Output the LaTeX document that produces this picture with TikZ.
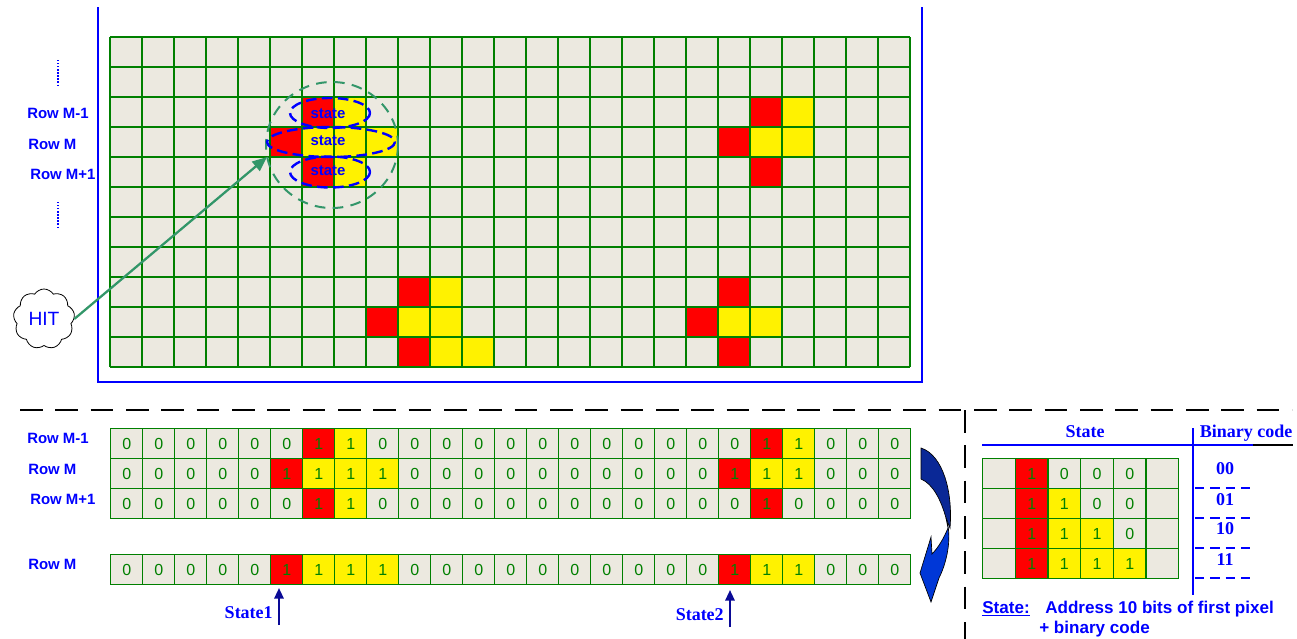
\documentclass[tikz,border=0pt]{standalone}
\usepackage{fontspec}
\setmainfont{Liberation Serif}
\setsansfont{Liberation Sans}
\usetikzlibrary{shapes.symbols,arrows.meta}
\definecolor{cellbg}{RGB}{236,233,224}
\definecolor{gridgreen}{RGB}{0,128,0}
\definecolor{hitgreen}{RGB}{50,150,105}
\definecolor{navyarrow}{RGB}{10,10,150}
\definecolor{arrdark}{RGB}{10,40,150}
\definecolor{arrlight}{RGB}{0,55,215}
\def\valz{0}\def\valr{1}\def\valy{1}\def\vale{}
\tikzset{
  frame/.style={draw=blue,line width=1.2pt},
  gridline/.style={draw=gridgreen,line width=1.3pt},
  cellz/.style={draw=gridgreen,line width=1.1pt,fill=cellbg,minimum width=24pt,minimum height=22.5pt,inner sep=0pt,anchor=north west,text=gridgreen,font=\sffamily\fontsize{12}{12}\selectfont},
  cellr/.style={cellz,fill=red},
  celly/.style={cellz,fill=yellow},
  celle/.style={cellz},
  rowlbl/.style={anchor=west,inner sep=0pt,text=blue,font=\sffamily\bfseries\fontsize{11.2}{13}\selectfont},
  statetxt/.style={inner sep=0pt,text=blue,font=\sffamily\bfseries\fontsize{11.2}{13}\selectfont},
  serifbold/.style={inner sep=0pt,text=blue,font=\rmfamily\bfseries\fontsize{13.5}{15}\selectfont},
  notetxt/.style={anchor=west,inner sep=0pt,text=blue,font=\sffamily\bfseries\fontsize{12.8}{14}\selectfont},
  divider/.style={draw=black,line width=1.2pt,dash pattern=on 17pt off 9.5pt},
  stateell/.style={draw=blue,line width=1.8pt,dash pattern=on 8pt off 4pt},
  dotline/.style={draw=blue,line width=1.6pt,dash pattern=on 1pt off 1.3pt},
  statearrow/.style={draw=navyarrow,line width=1.6pt,-{Triangle[length=8pt,width=7pt]}},
  bincode/.style={draw=blue,line width=1pt,dash pattern=on 7pt off 4.5pt}
}
\begin{document}
\begin{tikzpicture}[x=0.75pt,y=-0.75pt]
\useasboundingbox (0,0) rectangle (1297,639);

% ---------------- top frame ----------------
\draw[frame] (98,7) -- (98,382) -- (922,382) -- (922,7);

% ---------------- top grid ----------------
\fill[cellbg] (110,37) rectangle (910,367);
\foreach \c/\r in {6/2,5/3,6/4,20/2,19/3,20/4,9/8,8/9,9/10,19/8,18/9,19/10}
  \fill[red] ({110+32*\c},{37+30*\r}) rectangle +(32,30);
\foreach \c/\r in {7/2,6/3,7/3,8/3,7/4,21/2,20/3,21/3,10/8,9/9,10/9,10/10,11/10,19/9,20/9}
  \fill[yellow] ({110+32*\c},{37+30*\r}) rectangle +(32,30);
\foreach \i in {0,...,25} \draw[gridline] ({110+32*\i},37) -- ({110+32*\i},367);
\foreach \j in {0,...,11} \draw[gridline] (110,{37+30*\j}) -- (910,{37+30*\j});

% left labels (top)
\draw[dotline] (58,60) -- (58,86);
\node[rowlbl] (tl1) at (27,113) {Row M-1};
\node[rowlbl] (tl2) at (28,144) {Row M};
\node[rowlbl] (tl3) at (30,174) {Row M+1};
\draw[dotline] (58,202) -- (58,228);

% state ellipses
\draw[draw=hitgreen,line width=1.5pt,dash pattern=on 8pt off 5.5pt] (332,145) ellipse [x radius=66,y radius=63];
\draw[stateell] (330,113) ellipse [x radius=40,y radius=15];
\draw[stateell] (331,142) ellipse [x radius=64,y radius=15];
\draw[stateell] (330,172) ellipse [x radius=40,y radius=15.5];
\node[statetxt] (s1) at (328,114) {state};
\node[statetxt] (s2) at (328,141) {state};
\node[statetxt] (s3) at (328,171) {state};

% HIT cloud
\node[cloud,cloud puffs=9,cloud puff arc=115,aspect=1,draw=black,line width=0.6pt,fill=white,
      minimum width=46pt,minimum height=45pt,inner sep=0pt,text=blue,
      font=\sffamily\fontsize{14.4}{16}\selectfont] (hit) at (44,319) {HIT};
\coordinate (hittarget) at (267,157);
\draw[draw=hitgreen,line width=1.7pt,-{Triangle[length=11pt,width=9pt]}] (hit.east) -- (hittarget);

% ---------------- dividers ----------------
\draw[divider] (20,410) -- (1292,410);
\draw[divider] (965,410) -- (965,639);

% ---------------- bottom rows ----------------
\node[rowlbl] (bl1) at (27,438) {Row M-1};
\node[rowlbl] (bl2) at (28,469) {Row M};
\node[rowlbl] (bl3) at (30,499) {Row M+1};
\node[rowlbl] (bl4) at (28,564) {Row M};

\foreach \v [count=\i from 0] in {z,z,z,z,z,z,r,y,z,z,z,z,z,z,z,z,z,z,z,z,r,y,z,z,z}
  \node[cell\v] (ma-\i) at ({110+32*\i},428) {\csname val\v\endcsname};
\foreach \v [count=\i from 0] in {z,z,z,z,z,r,y,y,y,z,z,z,z,z,z,z,z,z,z,r,y,y,z,z,z}
  \node[cell\v] (mb-\i) at ({110+32*\i},458) {\csname val\v\endcsname};
\foreach \v [count=\i from 0] in {z,z,z,z,z,z,r,y,z,z,z,z,z,z,z,z,z,z,z,z,r,z,z,z,z}
  \node[cell\v] (mc-\i) at ({110+32*\i},488) {\csname val\v\endcsname};
\foreach \v [count=\i from 0] in {z,z,z,z,z,r,y,y,y,z,z,z,z,z,z,z,z,z,z,r,y,y,z,z,z}
  \node[cell\v] (md-\i) at ({110+32*\i},554) {\csname val\v\endcsname};

% state arrows
\coordinate (sa1) at (279,625);
\coordinate (sb1) at (279,588);
\coordinate (sa2) at (730,627);
\coordinate (sb2) at (730,590);
\draw[statearrow] (sa1) -- (sb1);
\draw[statearrow] (sa2) -- (sb2);
\node[serifbold,anchor=east] (st1) at (273,613) {State1};
\node[serifbold,anchor=east] (st2) at (724,615) {State2};

% curved block arrow
\fill[arrdark,draw=black,line width=0.5pt] (921,448) .. controls (943,455) and (953,492) .. (950,528)
   -- (946,518) .. controls (941,500) and (933,484) .. (921,479) -- cycle;
\fill[arrlight,draw=black,line width=0.5pt] (946,518) .. controls (952,535) and (948,560) .. (939,578)
   -- (931,602) -- (920,573) -- (931,537) -- (932,554) .. controls (938,548) and (944,538) .. (948,528) -- cycle;

% ---------------- right table ----------------
\node[serifbold] (thstate) at (1085,432) {State};
\node[serifbold] (thcode) at (1246,433) {Binary code};
\draw[draw=blue,line width=1pt] (982,445) -- (1253,445);
\draw[draw=black,line width=1pt] (1253,445) -- (1293,445);
\draw[draw=blue,line width=1.3pt] (1193,428) -- (1193,595);

\foreach \v [count=\i from 0] in {e,r,z,z,z,e}
  \node[cell\v,minimum width=24.5pt] (ta-\i) at ({982+32.67*\i},458) {\csname val\v\endcsname};
\foreach \v [count=\i from 0] in {e,r,y,z,z,e}
  \node[cell\v,minimum width=24.5pt] (tb-\i) at ({982+32.67*\i},488) {\csname val\v\endcsname};
\foreach \v [count=\i from 0] in {e,r,y,y,z,e}
  \node[cell\v,minimum width=24.5pt] (tc-\i) at ({982+32.67*\i},518) {\csname val\v\endcsname};
\foreach \v [count=\i from 0] in {e,r,y,y,y,e}
  \node[cell\v,minimum width=24.5pt] (td-\i) at ({982+32.67*\i},548) {\csname val\v\endcsname};

\node[serifbold] (c00) at (1225,469) {00};
\node[serifbold] (c01) at (1225,500) {01};
\node[serifbold] (c10) at (1225,529) {10};
\node[serifbold] (c11) at (1225,560) {11};
\foreach \yy in {488,518,548,578} \draw[bincode] (1195,\yy) -- (1256,\yy);

\node[notetxt] (nstate) at (982,609) {\underline{State:}};
\node[notetxt] (naddr) at (1045,609) {Address 10 bits of first pixel};
\node[notetxt] (nbin) at (1039,629) {+ binary code};
\end{tikzpicture}
\end{document}
